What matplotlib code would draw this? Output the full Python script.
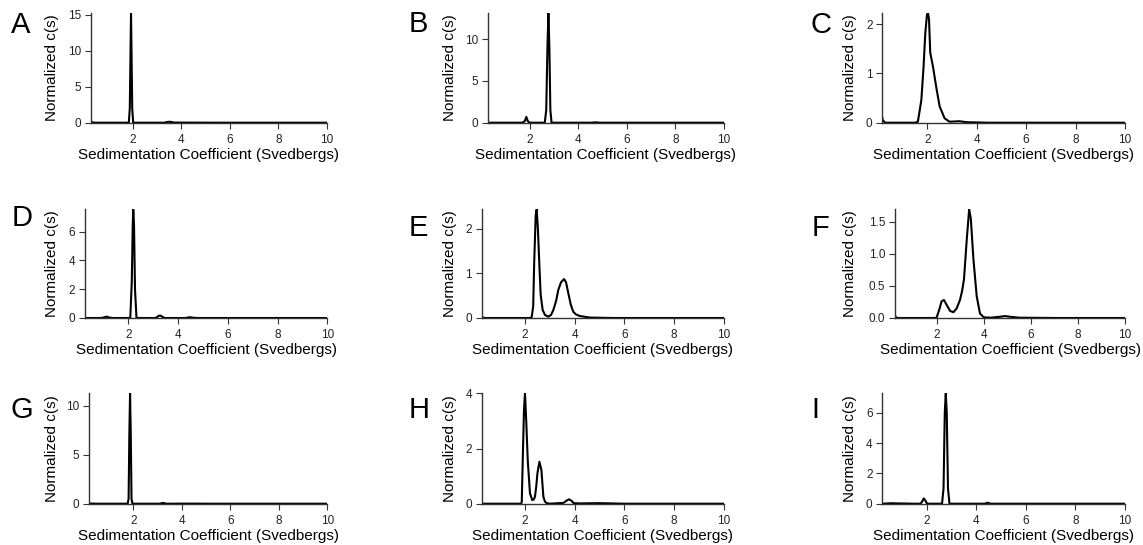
import matplotlib
matplotlib.use('Agg')
import matplotlib.pyplot as plt

plt.rcParams['font.family'] = ['Liberation Sans', 'DejaVu Sans']

# c(s) distributions, one pair of arrays per panel
s_A = [0.27, 0.3, 0.35, 0.5, 1.5, 1.84, 1.88, 1.91, 1.93, 1.95, 1.98, 2.02, 3.3, 3.45, 3.55, 3.7, 4.5, 6, 10]
c_A = [0.3, 0.15, 0.02, 0, 0, 0, 2.0, 10.0, 15.2, 10.0, 2.0, 0, 0, 0.12, 0.12, 0.02, 0.01, 0, 0]

s_B = [0.27, 1.0, 1.7, 1.8, 1.86, 1.92, 2.0, 2.62, 2.68, 2.73, 2.77, 2.81, 2.85, 2.9, 3.5, 4.5, 4.7, 4.9, 6, 10]
c_B = [0, 0, 0, 0.2, 0.7, 0.2, 0, 0, 1.5, 9.0, 13.1, 9.0, 1.5, 0, 0, 0, 0.04, 0, 0, 0]

s_C = [0.16, 0.2, 0.3, 1.5, 1.62, 1.76, 1.85, 1.92, 1.99, 2.03, 2.07, 2.12, 2.23, 2.36, 2.5, 2.7, 2.9, 3.3, 3.6, 4.5, 10]
c_C = [0.15, 0.05, 0, 0, 0.02, 0.46, 1.14, 1.82, 2.2, 2.22, 2.1, 1.42, 1.14, 0.73, 0.33, 0.09, 0.02, 0.03, 0.01, 0, 0]

s_D = [0.26, 0.9, 1.05, 1.12, 1.2, 1.35, 2.08, 2.14, 2.18, 2.2, 2.23, 2.27, 2.33, 3.1, 3.2, 3.27, 3.34, 3.45, 4.3, 4.45, 4.5, 4.6, 4.8, 6, 10]
c_D = [0, 0, 0.05, 0.1, 0.05, 0, 0, 2.5, 6.5, 7.55, 6.5, 2.0, 0, 0, 0.12, 0.18, 0.12, 0, 0, 0.05, 0.05, 0.02, 0, 0, 0]

s_E = [0.26, 0.3, 0.4, 2.2, 2.27, 2.33, 2.37, 2.43, 2.47, 2.52, 2.58, 2.63, 2.71, 2.8, 2.94, 3.05, 3.14, 3.25, 3.34, 3.45, 3.57, 3.65, 3.74, 3.84, 3.94, 4.05, 4.2, 4.6, 5.5, 10]
c_E = [0.03, 0.01, 0, 0, 0.02, 0.26, 1.23, 2.29, 2.43, 1.98, 1.16, 0.52, 0.18, 0.07, 0.03, 0.07, 0.18, 0.38, 0.63, 0.8, 0.87, 0.8, 0.56, 0.3, 0.14, 0.08, 0.045, 0.01, 0, 0]

s_F = [0.23, 0.27, 0.35, 1.95, 2.0, 2.11, 2.21, 2.31, 2.43, 2.57, 2.71, 2.85, 2.99, 3.08, 3.16, 3.28, 3.38, 3.45, 3.56, 3.7, 3.84, 4.0, 4.3, 4.7, 4.9, 5.1, 5.5, 7, 10]
c_F = [0.04, 0.01, 0, 0, 0.01, 0.13, 0.26, 0.28, 0.2, 0.11, 0.09, 0.15, 0.28, 0.42, 0.6, 1.23, 1.69, 1.55, 0.92, 0.34, 0.07, 0.01, 0.005, 0.02, 0.03, 0.02, 0.005, 0, 0]

s_G = [0.19, 0.5, 1.77, 1.81, 1.84, 1.87, 1.9, 1.93, 1.97, 3.1, 3.2, 3.25, 3.35, 4.5, 5, 10]
c_G = [0.02, 0, 0, 0.5, 7.0, 11.26, 7.0, 0.5, 0, 0, 0.07, 0.08, 0, 0.01, 0, 0]

s_H = [0.26, 1.84, 1.87, 1.91, 1.96, 2.0, 2.05, 2.11, 2.2, 2.29, 2.35, 2.4, 2.45, 2.5, 2.58, 2.66, 2.74, 2.8, 2.87, 3.0, 3.55, 3.65, 3.77, 3.88, 3.95, 4.2, 5, 6, 10]
c_H = [0, 0, 0.05, 1.59, 3.4, 4.0, 3.0, 1.59, 0.38, 0.13, 0.15, 0.25, 0.6, 1.1, 1.52, 1.22, 0.25, 0.08, 0.02, 0, 0.03, 0.1, 0.16, 0.1, 0.02, 0.01, 0.02, 0, 0]

s_I = [0.21, 0.6, 0.8, 1.5, 1.75, 1.82, 1.88, 1.95, 2.02, 2.62, 2.68, 2.73, 2.77, 2.81, 2.86, 2.92, 3.5, 4.35, 4.46, 4.57, 5, 10]
c_I = [0, 0.03, 0.02, 0, 0, 0.15, 0.35, 0.2, 0, 0, 1.0, 6.0, 7.3, 6.0, 1.0, 0, 0, 0, 0.07, 0, 0, 0]

letters = ['A', 'B', 'C', 'D', 'E', 'F', 'G', 'H', 'I']
series = [(s_A, c_A), (s_B, c_B), (s_C, c_C), (s_D, c_D), (s_E, c_E),
          (s_F, c_F), (s_G, c_G), (s_H, c_H), (s_I, c_I)]
y_ticks = [[0, 5, 10, 15], [0, 5, 10], [0, 1, 2],
           [0, 2, 4, 6], [0, 1, 2], [0.0, 0.5, 1.0, 1.5],
           [0, 5, 10], [0, 2, 4], [0, 2, 4, 6]]
y_tops = [15.2, 13.1, 2.22, 7.55, 2.43, 1.69, 11.26, 4.0, 7.3]
x_mins = [0.27, 0.27, 0.18, 0.26, 0.26, 0.23, 0.19, 0.26, 0.21]
x_ticks = [2, 4, 6, 8, 10]

W, H = 1143, 545
# axes boxes in pixels: left, right, top, bottom
boxes = [(90.7, 327, 13.3, 122.7), (487.7, 724, 13.3, 122.7), (882.3, 1125, 13.3, 122.7),
         (85, 327.3, 209.3, 318), (481.7, 724, 209.3, 318), (895, 1125, 209.3, 318),
         (89.3, 327.3, 393.3, 503.7), (481.7, 724, 393.3, 503.7), (882.3, 1125, 393.3, 503.7)]
ylabel_x = [52, 450, 850]
letter_pos = [(21, 25), (418, 24), (821, 25), (22, 218), (418, 228), (820, 228),
              (22, 410), (419, 410), (815, 410)]

fig = plt.figure(figsize=(W / 100, H / 100), dpi=100)

for i in range(9):
    l, r, t, b = boxes[i]
    ax = fig.add_axes([l / W, 1 - b / H, (r - l) / W, (b - t) / H])
    s, c = series[i]
    ax.plot(s, c, color='black', lw=1.5, solid_joinstyle='round')
    ax.set_xlim(x_mins[i], 10)
    ax.set_ylim(0, y_tops[i])
    ax.set_xticks(x_ticks)
    ax.set_yticks(y_ticks[i])
    if i == 5:
        ax.set_yticklabels(['%.1f' % v for v in y_ticks[i]])
    for side in ['top', 'right']:
        ax.spines[side].set_visible(False)
    for side in ['left', 'bottom']:
        ax.spines[side].set_linewidth(1.0)
        ax.spines[side].set_color('#333333')
    ax.tick_params(direction='out', length=4, width=0.8, labelsize=8.5,
                   colors='#333333', labelcolor='#222222')
    ax.tick_params(axis='x', pad=4)
    ax.tick_params(axis='y', pad=3)
    ax.set_xlabel('Sedimentation Coefficient (Svedbergs)', fontsize=11)
    ax.set_ylabel('Normalized c(s)', fontsize=11)
    ax.xaxis.set_label_coords(0.5, -32 / (b - t))
    ax.xaxis.label.set_va('center')
    ax.yaxis.set_label_coords(ylabel_x[i % 3] / W, 1 - (t + b) / 2 / H,
                              transform=fig.transFigure)
    ax.yaxis.label.set_va('center')
    lx, ly = letter_pos[i]
    fig.text(lx / W, 1 - ly / H, letters[i], fontsize=21, ha='center', va='center')

fig.savefig('out.png', dpi=100)
